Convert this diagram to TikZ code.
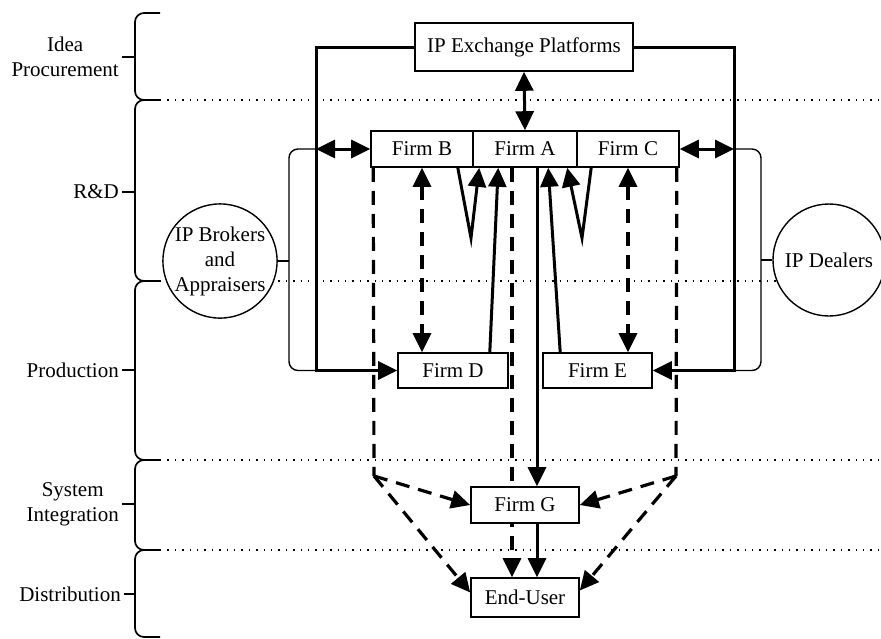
\documentclass[tikz,border=0pt]{standalone}
\usepackage{fontspec}
\setmainfont{Liberation Serif}
\usetikzlibrary{arrows.meta,calc,backgrounds}

\begin{document}
\begin{tikzpicture}[x=1pt,y=-1pt,
  font=\fontsize{21}{25}\selectfont,
  box/.style={draw,line width=1.6pt,fill=white,inner sep=0pt},
  agent/.style={circle,draw,line width=1.4pt,fill=white,inner sep=0pt,minimum size=114pt,align=center},
  flow/.style={line width=3pt},
  dashflow/.style={line width=3.2pt,dash pattern=on 14pt off 9pt},
  tip/.style={-{Triangle[length=19pt,width=18pt]}},
  tips/.style={{Triangle[length=19pt,width=18pt]}-{Triangle[length=19pt,width=18pt]}},
  lane/.style={line width=1.4pt,dash pattern=on 1.4pt off 6pt},
  brace/.style={line width=1.7pt,rounded corners=9pt},
  bracket/.style={line width=1.4pt,rounded corners=9pt},
  stage/.style={anchor=east,align=center,inner sep=0pt}
]
\useasboundingbox (0,0) rectangle (881,638);

% actors
\node[box,minimum width=218pt,minimum height=48pt] (ipx) at (524,47) {IP Exchange Platforms};
\node[box,minimum width=102pt,minimum height=36pt] (firmB) at (422,149) {Firm B};
\node[box,minimum width=104pt,minimum height=36pt] (firmA) at (525,149) {Firm A};
\node[box,minimum width=102pt,minimum height=36pt] (firmC) at (628,149) {Firm C};
\node[box,minimum width=110pt,minimum height=35pt] (firmD) at (453,370.5) {Firm D};
\node[box,minimum width=109pt,minimum height=35pt] (firmE) at (597.5,370.5) {Firm E};
\node[box,minimum width=108pt,minimum height=36pt] (firmG) at (525,505) {Firm G};
\node[box,minimum width=108pt,minimum height=39pt] (user) at (525,597.5) {End-User};
\node[agent] (brokers) at (220,261) {IP Brokers\\and\\Appraisers};
\node[agent,minimum size=112pt] (dealers) at (829,260) {IP Dealers};

% value-chain stages
\node[stage] (s1) at (119,57) {Idea\\Procurement};
\node[stage] (s2) at (119,192) {R\&D};
\node[stage] (s3) at (119,370) {Production};
\node[stage] (s4) at (119,504) {System\\Integration};
\node[stage] (s5) at (121,594) {Distribution};

% routing points
\coordinate (lTop) at (316,47);
\coordinate (lMid) at (316,149);
\coordinate (lBot) at (316,370.5);
\coordinate (rTop) at (734,47);
\coordinate (rMid) at (734,149);
\coordinate (rBot) at (734,370.5);
\coordinate (lBrk) at (289,261);
\coordinate (rBrk) at (761,260);
\coordinate (vL) at (471,238);
\coordinate (vR) at (582,238);
\coordinate (cL) at (374,476);
\coordinate (cR) at (676,476);

\begin{scope}[on background layer]
  % stage separators
  \draw[lane] (160,100) -- (881,100);
  \draw[lane] (160,281) -- (881,281);
  \draw[lane] (160,460) -- (881,460);
  \draw[lane] (160,550) -- (881,550);

  % stage braces
  \draw[brace] (160,13) -- (135,13) -- (135,100) -- (160,100);
  \draw[brace] (160,100) -- (135,100) -- (135,281) -- (160,281);
  \draw[brace] (160,281) -- (135,281) -- (135,460) -- (160,460);
  \draw[brace] (160,460) -- (135,460) -- (135,550) -- (160,550);
  \draw[brace] (160,550) -- (135,550) -- (135,637) -- (160,637);
  \draw[line width=1.7pt] (135,57) -- (122,57);
  \draw[line width=1.7pt] (135,192) -- (122,192);
  \draw[line width=1.7pt] (135,370) -- (122,370);
  \draw[line width=1.7pt] (135,504) -- (122,504);
  \draw[line width=1.7pt] (135,594) -- (124,594);

  % exchange platform links
  \draw[flow,tip] (ipx.west) -- (lTop) -- (lBot) -- (firmD.west);
  \draw[flow,tip] (ipx.east) -- (rTop) -- (rBot) -- (firmE.east);
  \draw[flow,tips] (lMid) -- (firmB.west);
  \draw[flow,tips] (firmC.east) -- (rMid);
  \draw[flow,tips] (ipx.south) -- (firmA.north);

  % intermediaries
  \draw[bracket] (lMid) -| (lBrk) |- (lBot);
  \draw[bracket] (brokers.east) -- (lBrk);
  \draw[bracket] (rMid) -| (rBrk) |- (rBot);
  \draw[bracket] (rBrk) -- (dealers.west);

  % R&D and production exchanges
  \draw[dashflow,tips] (firmB.south) -- (firmB.south |- firmD.north);
  \draw[dashflow,tips] (firmC.south) -- (firmC.south |- firmE.north);
  \draw[flow,tip] ($(firmB.south east)+(-16,0)$) -- (vL) -- ($(firmA.south west)+(7,0)$);
  \draw[flow,tip] ($(firmD.north east)+(-19,0)$) -- ($(firmA.south west)+(26,0)$);
  \draw[flow,tip] ($(firmE.north west)+(18,0)$) -- ($(firmA.south west)+(76,0)$);
  \draw[flow,tip] ($(firmC.south west)+(15,0)$) -- (vR) -- ($(firmA.south west)+(95,0)$);

  % integration and distribution
  \draw[flow,tip] ($(firmA.south)+(12,0)$) -- ($(firmG.north)+(12,0)$);
  \draw[dashflow,tip] ($(firmA.south)+(-13,0)$) -- ($(user.north)+(-13,0)$);
  \draw[flow,tip] ($(firmG.south)+(12,0)$) -- ($(user.north)+(12,0)$);
  \draw[dashflow] ($(firmB.south west)+(3,0)$) -- (cL);
  \draw[dashflow,tip] (cL) -- (firmG.west);
  \draw[dashflow,tip] (cL) -- ($(user.west)+(0,-5)$);
  \draw[dashflow] ($(firmC.south east)+(-3,0)$) -- (cR);
  \draw[dashflow,tip] (cR) -- (firmG.east);
  \draw[dashflow,tip] (cR) -- ($(user.east)+(0,-7)$);
\end{scope}
\end{tikzpicture}
\end{document}
